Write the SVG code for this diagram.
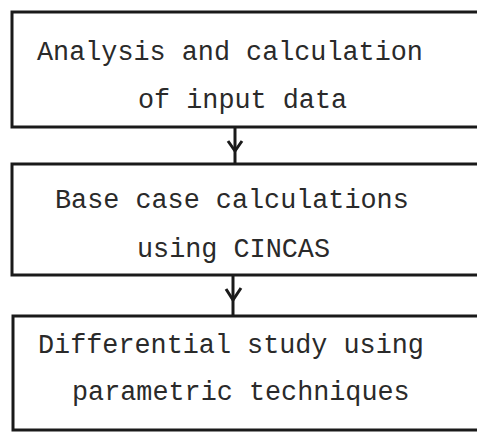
<svg xmlns="http://www.w3.org/2000/svg" width="477" height="432" viewBox="0 0 477 432">
<style>
.box{fill:#fff;stroke:#1a1a1a;stroke-width:3}
.t{font-family:"Liberation Mono","Courier New",monospace;font-size:26.8px;fill:#2a2a2a}
.c{stroke:#1a1a1a;stroke-width:3;fill:none}
</style>
<rect width="477" height="432" fill="#fff"/>
<g id="connectors">
<line class="c" x1="235" y1="127" x2="235" y2="164"/>
<path class="c" d="M228,141 L235,151 L242,141" stroke-width="4"/>
<line class="c" x1="233" y1="275" x2="233" y2="316"/>
<path class="c" d="M226,289 L233,300 L241,288" stroke-width="4"/>
</g>
<g id="node1">
<rect class="box" x="12" y="12" width="470" height="115"/>
<text class="t" x="37" y="60">Analysis and calculation</text>
<text class="t" x="138" y="108">of input data</text>
</g>
<g id="node2">
<rect class="box" x="12" y="164" width="470" height="111"/>
<text class="t" x="55" y="208">Base case calculations</text>
<text class="t" x="137" y="257">using CINCAS</text>
</g>
<g id="node3">
<rect class="box" x="13" y="316" width="470" height="114"/>
<text class="t" x="38" y="353">Differential study using</text>
<text class="t" x="72" y="400">parametric techniques</text>
</g>
</svg>
